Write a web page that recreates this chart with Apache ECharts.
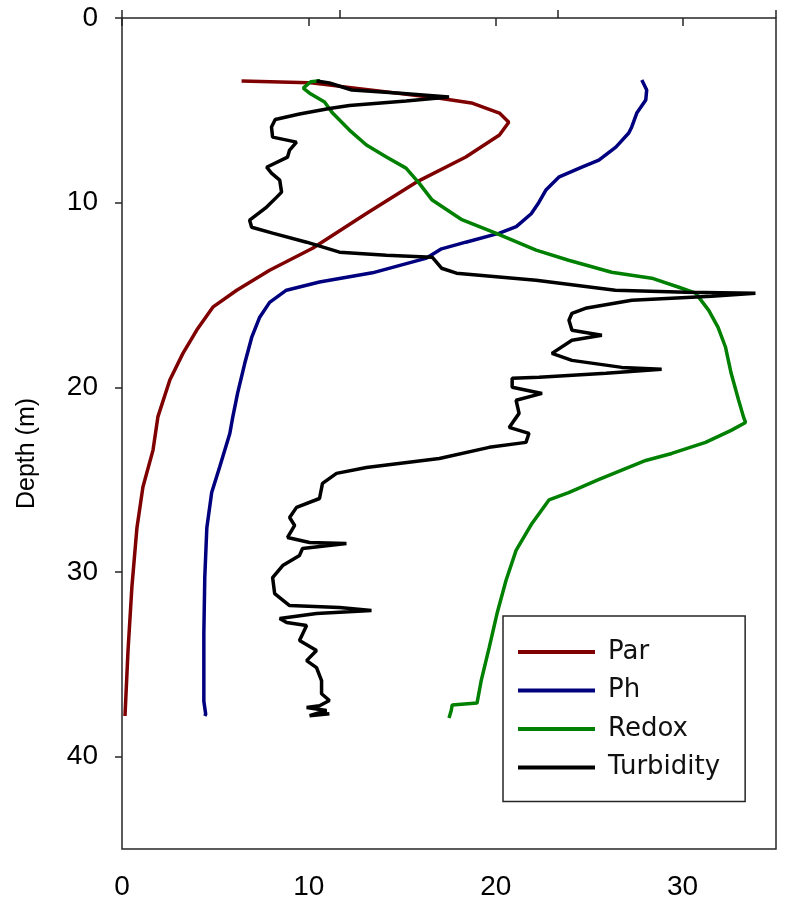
<!DOCTYPE html>
<html>
<head>
<meta charset="utf-8">
<script src="https://cdn.jsdelivr.net/npm/echarts@6/dist/echarts.min.js"></script>
<style>
  html, body { margin: 0; padding: 0; background: #ffffff; }
  #chart { width: 804px; height: 913px; }
</style>
</head>
<body>
<div id="chart"></div>
<script>
// Depth profiles (m) of four water-column readings
const parDepth = [3.41, 3.5, 4.34, 4.6, 5.15, 5.64, 6.34, 7.53, 8.89, 10.57, 12.47, 13.66, 14.74, 15.66, 16.9, 18.16, 19.6, 21.6, 23.4, 25.4, 27.6, 30.8, 34.3, 37.8];
const parValue = [6.4, 10.0, 17.0, 18.7, 20.2, 20.7, 20.2, 18.4, 15.75, 13.1, 10.2, 7.9, 6.14, 4.86, 4.0, 3.26, 2.56, 1.92, 1.66, 1.12, 0.8, 0.53, 0.32, 0.16];

const phDepth = [3.36, 3.9, 4.44, 5.15, 5.9, 6.23, 6.99, 7.7, 8.08, 8.6, 9.3, 10.0, 10.6, 11.3, 11.65, 12.14, 12.5, 13.0, 13.8, 14.3, 14.74, 15.4, 16.2, 17.3, 18.7, 20.3, 21.6, 22.5, 24.3, 25.7, 27.6, 30.3, 33.3, 37.0, 37.7, 37.8];
const phValue = [27.82, 28.08, 28.03, 27.55, 27.28, 27.12, 26.43, 25.52, 24.61, 23.4, 22.7, 22.3, 21.9, 21.1, 20.2, 18.4, 17.1, 16.3, 13.4, 10.57, 8.8, 7.9, 7.37, 6.94, 6.57, 6.19, 5.93, 5.77, 5.23, 4.8, 4.54, 4.43, 4.38, 4.38, 4.48, 4.43];

const redoxDepth = [3.4, 3.45, 3.8, 4.07, 4.55, 5.15, 6.07, 6.88, 7.53, 8.13, 8.94, 9.86, 10.9, 11.65, 12.57, 13.12, 13.77, 14.09, 14.58, 14.9, 15.83, 16.75, 17.83, 19.24, 20.7, 21.6, 21.9, 22.33, 22.98, 23.58, 23.96, 25.0, 25.7, 26.1, 27.37, 28.83, 30.46, 32.25, 34.1, 35.9, 37.1, 37.2, 37.5, 37.9];
const redoxValue = [10.6, 10.1, 9.7, 10.04, 10.84, 11.27, 12.17, 13.08, 14.15, 15.2, 15.9, 16.6, 18.15, 20.0, 22.16, 23.9, 26.2, 28.35, 29.8, 30.7, 31.4, 31.9, 32.3, 32.6, 33.0, 33.26, 33.37, 32.6, 31.23, 29.42, 28.03, 25.5, 23.9, 22.85, 21.94, 21.09, 20.55, 20.07, 19.65, 19.22, 19.0, 17.67, 17.62, 17.5];

const turbDepth = [3.41, 3.52, 3.9, 4.07, 4.28, 4.5, 4.74, 4.9, 5.2, 5.5, 5.9, 6.45, 6.72, 7.15, 7.53, 8.08, 8.4, 8.78, 9.43, 9.7, 10.24, 10.95, 11.33, 11.65, 12.14, 12.68, 12.85, 12.95, 13.55, 13.82, 14.2, 14.74, 14.85, 14.9, 15.07, 15.28, 15.72, 15.99, 16.37, 16.91, 17.18, 17.45, 18.16, 18.54, 18.92, 19.02, 19.24, 19.46, 19.51, 20.0, 20.33, 20.7, 21.41, 22.17, 22.49, 22.98, 23.25, 23.85, 24.34, 24.66, 25.2, 26.02, 26.5, 27.05, 27.48, 28.13, 28.4, 28.46, 28.73, 29.1, 29.65, 30.3, 31.17, 31.82, 31.92, 32.09, 32.25, 32.52, 32.74, 32.9, 33.71, 34.25, 34.8, 35.18, 35.88, 36.59, 36.96, 37.24, 37.34, 37.5, 37.78, 37.67];
const turbValue = [10.41, 11.1, 12.3, 14.9, 17.5, 15.2, 12.17, 11.1, 9.5, 8.2, 8.0, 8.06, 9.34, 8.97, 8.86, 7.74, 8.0, 8.44, 8.54, 8.28, 7.74, 6.83, 6.94, 8.06, 9.88, 11.64, 14.15, 16.6, 17.1, 17.9, 22.16, 26.4, 30.2, 33.9, 31.55, 27.28, 24.8, 24.08, 23.92, 24.08, 25.68, 24.08, 23.01, 24.08, 26.75, 28.88, 25.9, 22.32, 20.88, 20.88, 22.48, 21.09, 21.25, 20.72, 21.78, 21.62, 19.65, 16.98, 13.08, 11.48, 10.73, 10.57, 9.34, 8.97, 9.24, 8.86, 10.04, 12.01, 9.66, 9.5, 8.6, 8.06, 8.17, 8.97, 11.64, 13.35, 10.41, 8.44, 8.81, 9.88, 9.5, 10.41, 9.88, 10.41, 10.68, 10.68, 11.1, 10.57, 9.88, 10.95, 10.04, 11.1];

const seriesNames = ['Par', 'Ph', 'Redox', 'Turbidity'];
const seriesColors = ['#7f0000', '#00007f', '#008000', '#000000'];

const xTicks = [0, 10, 20, 30];
const yTicks = [0, 10, 20, 30, 40];

function pairs(values, depths) {
  return values.map((v, i) => [v, depths[i]]);
}

const profiles = [
  pairs(parValue, parDepth),
  pairs(phValue, phDepth),
  pairs(redoxValue, redoxDepth),
  pairs(turbValue, turbDepth)
];

const axisColor = '#262626';
const tickFont = { fontFamily: 'Liberation Sans, Arial, sans-serif', fontSize: 28, color: '#000000' };

const chart = echarts.init(document.getElementById('chart'), null, { renderer: 'canvas' });

chart.setOption({
  animation: false,
  backgroundColor: '#ffffff',
  grid: {
    left: 122, right: 28, top: 18, bottom: 64,
    show: true, borderColor: axisColor, borderWidth: 1.5, backgroundColor: 'transparent'
  },
  xAxis: [
    {
      type: 'value', position: 'bottom', min: 0, max: 35, interval: 10,
      axisLine: { show: false },
      splitLine: { show: false },
      axisTick: { show: true, length: 8, customValues: xTicks, lineStyle: { color: axisColor, width: 1.5 } },
      axisLabel: Object.assign({ customValues: xTicks, margin: 24 }, tickFont)
    },
    {
      type: 'value', position: 'top', min: 0, max: 3, interval: 1,
      axisLine: { show: false },
      splitLine: { show: false },
      axisTick: { show: true, length: 8, lineStyle: { color: axisColor, width: 1.5 } },
      axisLabel: { show: false }
    }
  ],
  yAxis: {
    type: 'value', inverse: true, min: 0, max: 45, interval: 10,
    axisLine: { show: false },
    splitLine: { show: false },
    axisTick: { show: true, length: 7, customValues: yTicks, lineStyle: { color: axisColor, width: 1.5 } },
    axisLabel: Object.assign({ customValues: yTicks, margin: 24 }, tickFont),
    name: 'Depth (m)',
    nameLocation: 'middle',
    nameGap: 82,
    nameTextStyle: {
      fontFamily: 'Liberation Sans, Arial, sans-serif', fontSize: 25, color: '#000000',
      padding: [0, 40, 0, 0]
    }
  },
  legend: {
    orient: 'vertical',
    left: 503, top: 616,
    padding: [23, 25, 21, 15],
    itemGap: 12.5,
    itemWidth: 77, itemHeight: 26,
    icon: 'path://M0,0 H77 V4 H0 Z',
    borderColor: axisColor, borderWidth: 1.5,
    backgroundColor: '#ffffff',
    data: seriesNames,
    textStyle: {
      fontFamily: 'DejaVu Sans, sans-serif', fontSize: 26, color: '#111111',
      lineHeight: 26, padding: [0, 0, 0, 8]
    }
  },
  series: profiles.map((data, i) => ({
    name: seriesNames[i],
    type: 'line',
    xAxisIndex: 0,
    data: data,
    symbol: 'none',
    smooth: false,
    color: seriesColors[i],
    lineStyle: { color: seriesColors[i], width: 3.5 },
    emphasis: { disabled: true }
  }))
});
</script>
</body>
</html>
